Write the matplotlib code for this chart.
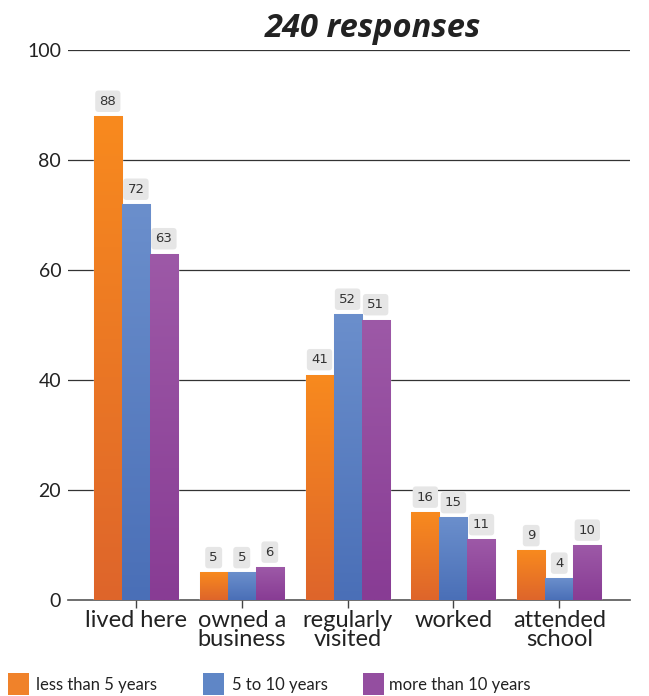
import matplotlib
matplotlib.use("Agg")
import matplotlib.pyplot as plt
import numpy as np
from matplotlib.colors import LinearSegmentedColormap
from matplotlib.patches import Rectangle

categories = ["lived here", "owned a\nbusiness", "regularly\nvisited", "worked", "attended\nschool"]
series_names = ["less than 5 years", "5 to 10 years", "more than 10 years"]
less_than_5 = [88, 5, 41, 16, 9]
five_to_10 = [72, 5, 52, 15, 4]
more_than_10 = [63, 6, 51, 11, 10]
title = "240 responses"
yticks = [0, 20, 40, 60, 80, 100]

series = [less_than_5, five_to_10, more_than_10]
top_colors = ["#f88a1e", "#6b8fcc", "#9d59a7"]
bot_colors = ["#de652b", "#4a6fb7", "#883c94"]
legend_colors = ["#f0822a", "#5f86c6", "#944ea0"]

plt.rcParams['font.family'] = ['Lato', 'DejaVu Sans']

fig = plt.figure(figsize=(6.49, 6.96), dpi=100)
ax = fig.add_axes([0.105, 0.138, 0.866, 0.79])

n = len(categories)
x = np.arange(n)
w = 0.265
offsets = [-w, 0, w]

grad = np.linspace(1, 0, 256).reshape(-1, 1)
for si, vals in enumerate(series):
    cmap = LinearSegmentedColormap.from_list("g", [bot_colors[si], top_colors[si]])
    bars = ax.bar(x + offsets[si], vals, width=w, color=top_colors[si],
                  edgecolor="#f4f4f4", linewidth=1.0, zorder=3)
    for b, v in zip(bars, vals):
        x0 = b.get_x(); x1 = x0 + b.get_width()
        im = ax.imshow(grad, extent=[x0, x1, 0, v], aspect='auto', cmap=cmap,
                       vmin=0, vmax=1, zorder=3.5, origin='upper')
        im.set_clip_path(b)
        ax.annotate(str(v), (b.get_x() + b.get_width() / 2, v),
                    xytext=(0, 6), textcoords="offset points",
                    ha="center", va="bottom", fontsize=9.5, color="#333333",
                    family=["DejaVu Sans"], zorder=5,
                    bbox=dict(boxstyle="round,pad=0.32,rounding_size=0.25",
                              fc="#e6e6e6", ec="none"))

ax.set_xlim(-0.64, 4.67)
ax.set_ylim(0, 100)
ax.set_yticks(yticks)
ax.set_yticklabels([str(t) for t in yticks], fontsize=14, color="#222222")
ax.tick_params(axis='y', length=0, pad=5)
ax.set_xticks(x)
ax.set_xticklabels(categories, fontsize=17, color="#222222", linespacing=0.92)
ax.tick_params(axis='x', length=6, width=1, color="#444444", pad=1)
for t in yticks[1:]:
    ax.axhline(t, color="#333333", linewidth=0.9, zorder=1)
for s in ["top", "right", "left"]:
    ax.spines[s].set_visible(False)
ax.spines["bottom"].set_color("#555555")
ax.spines["bottom"].set_linewidth(1.2)

fig.text(0.575, 0.959, title, ha="center", va="center", fontsize=23.5,
         fontweight="bold", fontstyle="italic", family=["Open Sans", "DejaVu Sans"],
         color="#222222")

leg_sq_x = [8, 203, 363]
leg_tx_x = [36, 232, 389]
for i in range(3):
    fig.patches.append(Rectangle((leg_sq_x[i] / 649, 1 - 695 / 696), 21 / 649, 22 / 696,
                                 transform=fig.transFigure, facecolor=legend_colors[i],
                                 edgecolor="none"))
    fig.text(leg_tx_x[i] / 649, 1 - 685 / 696, series_names[i], ha="left", va="center",
             fontsize=12, color="#222222")

fig.savefig("out.png", dpi=100)
